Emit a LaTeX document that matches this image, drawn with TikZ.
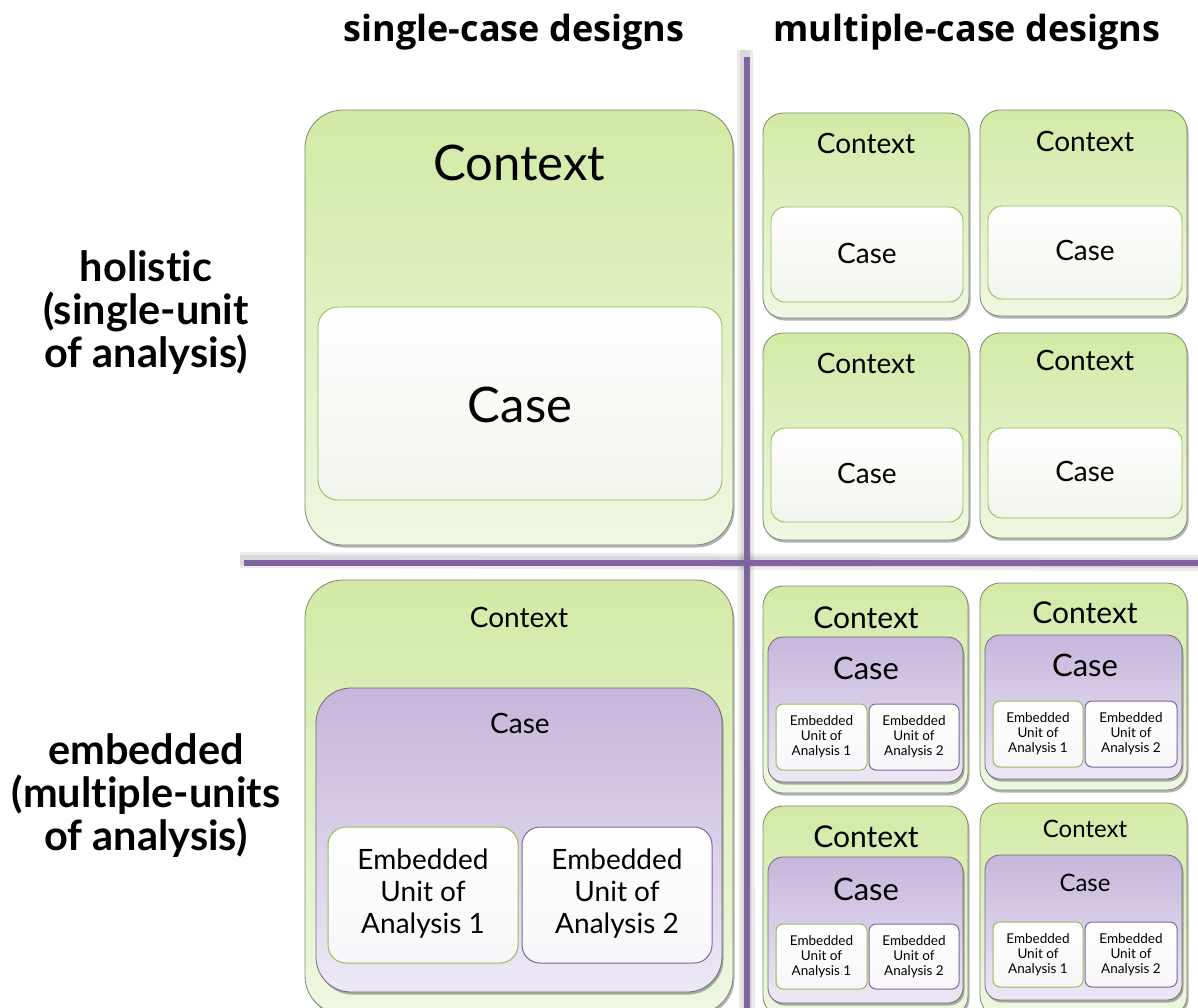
\documentclass[tikz,border=0pt]{standalone}
\usepackage{fontspec}
\setmainfont{Lato}[Ligatures=NoCommon]
\newfontfamily\hdfont{Open Sans}
\usetikzlibrary{shadows}
\definecolor{pline}{HTML}{8064A2}
\definecolor{gtop}{HTML}{D2EAA5}
\definecolor{gbot}{HTML}{EEF7E3}
\definecolor{gedge}{HTML}{7C8A6C}
\definecolor{cedge}{HTML}{9BBB59}
\definecolor{ptop}{HTML}{C6B6DB}
\definecolor{pbot}{HTML}{EDE8F5}
\definecolor{pedge}{HTML}{6F6A78}
\definecolor{wbot}{HTML}{F2F5EC}
\newcommand\fsz[2]{\fontsize{#1}{#2}\selectfont}
\newcommand\mybox[7]{\node[#1, anchor=north west, inner sep=0pt, outer sep=0pt,
  minimum width={(#5-#3)*1pt}, minimum height={(#6-#4)*1pt}, rounded corners=#7] (#2) at (#3,#4) {};}
\begin{document}
\begin{tikzpicture}[x=1pt,y=-1pt,
  shad/.style={drop shadow={shadow xshift=1.5pt, shadow yshift=-2.5pt, opacity=0.3, fill=black}},
  ctxbox/.style={shad, draw=gedge, line width=0.8pt, top color=gtop, bottom color=gbot},
  casebox/.style={draw=cedge, line width=0.9pt, top color=white, bottom color=wbot},
  pcasebox/.style={shad, draw=pedge, line width=0.8pt, top color=ptop, bottom color=pbot},
  eua/.style={draw=cedge, line width=1pt, top color=white, bottom color=white!94!pline},
  eub/.style={draw=pline, line width=1pt, top color=white, bottom color=white!94!pline},
  txt/.style={inner sep=0pt, text=black, align=center},
  hd/.style={inner sep=0pt, font=\hdfont\bfseries\fsz{36}{40}},
  side/.style={inner sep=0pt, align=center, font=\bfseries\fsz{41.5}{43}},
  pl/.style={draw=pline, line width=5.5pt},
  plsh/.style={draw=black, line width=#1, opacity=0.08},
]
\useasboundingbox (0,0) rectangle (1198,1008);
\clip (0,0) rectangle (1198,1008);

% headers
\node[hd] (h1) at (514,32) {single-case designs};
\node[hd] (h2) at (967,32) {multiple-case designs};

% side labels
\node[side] (l1) at (146,313) {holistic\\(single-unit\\of analysis)};
\node[side] (l2) at (146,796) {embedded\\(multiple-units\\of analysis)};

% ---------- top-left: holistic single-case ----------
\mybox{ctxbox}{ctxA}{305}{110}{733}{545}{38pt}
\node[txt, font=\fsz{49}{54}] (ctxAt) at (519,163) {Context};
\mybox{casebox}{caseA}{318}{307}{722}{500}{20pt}
\node[txt, font=\fsz{49}{54}] (caseAt) at (520,405) {Case};

% ---------- top-right: holistic multiple-case ----------
\mybox{ctxbox}{c1}{763}{113}{969}{318}{20pt}
\node[txt, font=\fsz{28}{32}] (c1t) at (866,143) {Context};
\mybox{casebox}{c1c}{771}{207}{963}{302}{14pt}
\node[txt, font=\fsz{28}{32}] (c1ct) at (867,253) {Case};

\mybox{ctxbox}{c2}{980}{110}{1187}{316}{20pt}
\node[txt, font=\fsz{28}{32}] (c2t) at (1085,141) {Context};
\mybox{casebox}{c2c}{988}{206}{1182}{299}{14pt}
\node[txt, font=\fsz{28}{32}] (c2ct) at (1085,250) {Case};

\mybox{ctxbox}{c3}{763}{333}{969}{540}{20pt}
\node[txt, font=\fsz{28}{32}] (c3t) at (866,363) {Context};
\mybox{casebox}{c3c}{771}{428}{963}{522}{14pt}
\node[txt, font=\fsz{28}{32}] (c3ct) at (867,473) {Case};

\mybox{ctxbox}{c4}{980}{333}{1187}{538}{20pt}
\node[txt, font=\fsz{28}{32}] (c4t) at (1085,360) {Context};
\mybox{casebox}{c4c}{988}{428}{1182}{518}{14pt}
\node[txt, font=\fsz{28}{32}] (c4ct) at (1085,471) {Case};

% ---------- bottom-left: embedded single-case ----------
\mybox{ctxbox}{ctxB}{305}{580}{733}{1014}{38pt}
\node[txt, font=\fsz{28}{32}] (ctxBt) at (519,617) {Context};
\mybox{pcasebox}{caseB}{316}{688}{722}{992}{35pt}
\node[txt, font=\fsz{28}{32}] (caseBt) at (520,723) {Case};
\mybox{eua}{euB1}{328}{827}{518}{963}{18pt}
\node[txt, font=\fsz{28}{32}] (euB1t) at (423,894) {Embedded\\Unit of\\Analysis 1};
\mybox{eub}{euB2}{522}{827}{712}{963}{18pt}
\node[txt, font=\fsz{28}{32}] (euB2t) at (617,894) {Embedded\\Unit of\\Analysis 2};

% ---------- bottom-right: embedded multiple-case ----------
% d1
\mybox{ctxbox}{d1}{763}{586}{968}{793}{20pt}
\node[txt, font=\fsz{30}{34}] (d1t) at (866,618) {Context};
\mybox{pcasebox}{d1c}{768}{637}{963}{782}{15pt}
\node[txt, font=\fsz{31}{35}] (d1ct) at (866,668) {Case};
\mybox{eua}{d1u1}{776}{704}{867}{770}{7pt}
\node[txt, font=\fsz{13.5}{15}] (d1u1t) at (821.5,737) {Embedded\\Unit of\\Analysis 1};
\mybox{eub}{d1u2}{869}{704}{959}{770}{7pt}
\node[txt, font=\fsz{13.5}{15}] (d1u2t) at (914,737) {Embedded\\Unit of\\Analysis 2};
% d2
\mybox{ctxbox}{d2}{980}{583}{1187}{790}{20pt}
\node[txt, font=\fsz{30}{34}] (d2t) at (1085,613) {Context};
\mybox{pcasebox}{d2c}{985}{635}{1182}{779}{15pt}
\node[txt, font=\fsz{31}{35}] (d2ct) at (1085,665) {Case};
\mybox{eua}{d2u1}{993}{701}{1083}{767}{7pt}
\node[txt, font=\fsz{13.5}{15}] (d2u1t) at (1038,734) {Embedded\\Unit of\\Analysis 1};
\mybox{eub}{d2u2}{1085}{701}{1177}{767}{7pt}
\node[txt, font=\fsz{13.5}{15}] (d2u2t) at (1131,734) {Embedded\\Unit of\\Analysis 2};
% d3
\mybox{ctxbox}{d3}{763}{806}{968}{1016}{20pt}
\node[txt, font=\fsz{30}{34}] (d3t) at (866,837) {Context};
\mybox{pcasebox}{d3c}{768}{857}{963}{1003}{15pt}
\node[txt, font=\fsz{31}{35}] (d3ct) at (866,889) {Case};
\mybox{eua}{d3u1}{776}{924}{867}{989}{7pt}
\node[txt, font=\fsz{13.5}{15}] (d3u1t) at (821.5,957) {Embedded\\Unit of\\Analysis 1};
\mybox{eub}{d3u2}{869}{924}{959}{989}{7pt}
\node[txt, font=\fsz{13.5}{15}] (d3u2t) at (914,957) {Embedded\\Unit of\\Analysis 2};
% d4
\mybox{ctxbox}{d4}{980}{803}{1187}{1016}{20pt}
\node[txt, font=\fsz{24}{28}] (d4t) at (1085,829) {Context};
\mybox{pcasebox}{d4c}{985}{855}{1182}{1000}{15pt}
\node[txt, font=\fsz{24}{28}] (d4ct) at (1085,883) {Case};
\mybox{eua}{d4u1}{993}{922}{1083}{987}{7pt}
\node[txt, font=\fsz{13.5}{15}] (d4u1t) at (1038,955) {Embedded\\Unit of\\Analysis 1};
\mybox{eub}{d4u2}{1085}{922}{1177}{987}{7pt}
\node[txt, font=\fsz{13.5}{15}] (d4u2t) at (1131,955) {Embedded\\Unit of\\Analysis 2};

% ---------- dividing lines ----------
\coordinate (vtop) at (747,57);
\coordinate (vbot) at (747,1012);
\coordinate (hl) at (244,563);
\coordinate (hr) at (1200,563);
\coordinate (vtops) at (745,50);
\coordinate (hls) at (240,560);
\draw[plsh=16pt] (vtops) -- (vbot);
\draw[plsh=10pt] (vtops) -- (vbot);
\draw[plsh=16pt] (hls) -- (hr);
\draw[plsh=10pt] (hls) -- (hr);
\draw[pl] (vtop) -- (vbot);
\draw[pl] (hl) -- (hr);
\end{tikzpicture}
\end{document}
